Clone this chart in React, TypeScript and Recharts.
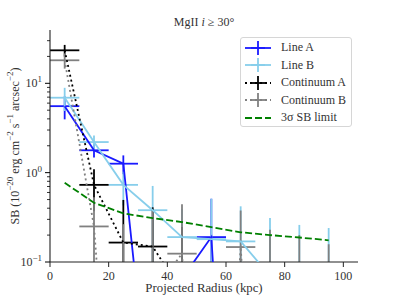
import React from 'react';
import { ComposedChart, Scatter, XAxis, YAxis, ErrorBar, Label } from 'recharts';

// ---- data ----
// values far below the axis floor stand for bins that drop off the log axis
const radius = [5, 15, 25, 35, 45, 55, 65, 75, 85, 95];
const binHalfWidth = [5, 5, 5, 5, 5, 5, 5, 5, 5, 5];

const lineA = [5.55, 1.78, 1.26, 0.001, 0.065, 0.19, 1e-6, 1e-6, 1e-6, 1e-6];
const lineAErr = [1.6, 0.3, 0.3, 0.05, 0.03, 0.32, 0.05, 0.05, 0.05, 0.05];

const lineB = [6.9, 2.2, 0.73, 0.38, 0.19, 0.18, 0.17, 0.07, 0.03, 0.02];
const lineBErr = [2.0, 0.4, 0.3, 0.33, 0.2, 0.33, 0.25, 0.24, 0.23, 0.22];

const contA = [23.4, 0.73, 0.165, 0.149, 0.046, 1e-6, 1e-6, 1e-6, 1e-6, 1e-6];
const contAErr = [3.5, 0.36, 0.33, 0.26, 0.2, 0.05, 0.05, 0.05, 0.05, 0.05];

const contB = [18.1, 0.25, 1e-5, 0.045, 0.124, 1e-6, 0.147, 1e-6, 1e-6, 1e-6];
const contBErr = [3.5, 0.28, 0.265, 0.33, 0.32, 0.05, 0.23, 0.23, 0.2, 0.158];

const sbLimit = [0.77, 0.46, 0.35, 0.31, 0.28, 0.245, 0.215, 0.2, 0.188, 0.175];

const xTicks = [0, 20, 40, 60, 80, 100];
const yTicks = [0.1, 0.2, 0.3, 0.4, 0.5, 0.6, 0.7, 0.8, 0.9, 1, 2, 3, 4, 5, 6, 7, 8, 9, 10, 20, 30];

const Y_MIN = 0.1;
const Y_MAX = 39.5;
const FONT = '"Liberation Serif", "DejaVu Serif", serif';
const TEXT = '#333';

// error bars are clipped at the bottom of the log axis (as matplotlib does visually)
const build = (vals: number[], errs: number[] | null) =>
  radius.map((r, i) => {
    const v = vals[i];
    const e = errs ? errs[i] : 0;
    const lo = Math.max(v - e, Y_MIN);
    const hi = Math.max(v + e, Y_MIN);
    return {
      x: r,
      y: v,
      ex: v >= Y_MIN ? binHalfWidth[i] : 0,
      ey: [v - lo, hi - v],
    };
  });

const dataA = build(lineA, lineAErr);
const dataB = build(lineB, lineBErr);
const dataCA = build(contA, contAErr);
const dataCB = build(contB, contBErr);
const dataLim = build(sbLimit, null);

const series = [
  { name: 'Line A', color: '#1a1aff', dash: undefined as string | undefined, err: true },
  { name: 'Line B', color: '#87ceeb', dash: undefined, err: true },
  { name: 'Continuum A', color: '#000000', dash: '2 3', err: true },
  { name: 'Continuum B', color: '#808080', dash: '2 3', err: true },
  { name: '3σ SB limit', color: '#008000', dash: '7 3', err: false },
];

const Empty = () => <g />;

const YTick = (props: any) => {
  const { x, y, payload } = props;
  const v = payload.value as number;
  const lg = Math.log10(v);
  const exp = Math.round(lg);
  const major = Math.abs(lg - exp) < 1e-6;
  return (
    <g>
      <line x1={x - (major ? 5 : 3)} x2={x} y1={y} y2={y} stroke="#000" strokeWidth={major ? 1 : 0.8} />
      {major && (
        <text x={x - 8} y={y + 4} textAnchor="end" fontFamily={FONT} fontSize={12} fill={TEXT}>
          10
          <tspan dy={-5} fontSize={9}>{exp < 0 ? '−' + Math.abs(exp) : String(exp)}</tspan>
        </text>
      )}
    </g>
  );
};

const YLabel = (props: any) => {
  const vb = props.viewBox || { x: 0, y: 30, width: 50, height: 232 };
  const cx = vb.x + 15;
  const cy = vb.y + vb.height / 2;
  return (
    <text
      x={cx}
      y={cy}
      transform={`rotate(-90 ${cx} ${cy})`}
      textAnchor="middle"
      dominantBaseline="central"
      fontFamily={FONT}
      fontSize={12}
      fill={TEXT}
    >
      SB (10<tspan dy={-5} fontSize={9}>−20</tspan>
      <tspan dy={5}> erg cm</tspan>
      <tspan dy={-5} fontSize={9}>−2</tspan>
      <tspan dy={5}> s</tspan>
      <tspan dy={-5} fontSize={9}>−1</tspan>
      <tspan dy={5}> arcsec</tspan>
      <tspan dy={-5} fontSize={9}>−2</tspan>
      <tspan dy={5}>)</tspan>
    </text>
  );
};

const XLabel = (props: any) => {
  const vb = props.viewBox || { x: 50, y: 262, width: 308, height: 37 };
  return (
    <text x={vb.x + vb.width / 2} y={vb.y + 30} textAnchor="middle" fontFamily={FONT} fontSize={12.8} fill={TEXT}>
      Projected Radius (kpc)
    </text>
  );
};

const LegendIcon = ({ s }: { s: (typeof series)[number] }) => (
  <svg width={26} height={14} style={{ display: 'block' }}>
    <line x1={0} x2={26} y1={7} y2={7} stroke={s.color} strokeWidth={1.8} strokeDasharray={s.dash} />
    {s.err && <line x1={6} x2={20} y1={7} y2={7} stroke={s.color} strokeWidth={1.8} />}
    {s.err && <line x1={13} x2={13} y1={0} y2={14} stroke={s.color} strokeWidth={1.8} />}
  </svg>
);

const LegendBox = () => (
  <div
    style={{
      position: 'absolute',
      left: 240,
      top: 37,
      width: 112,
      height: 90,
      border: '1px solid #d6d6d6',
      borderRadius: 3,
      background: 'rgba(255,255,255,0.8)',
      boxSizing: 'border-box',
      paddingTop: 1,
    }}
  >
    {series.map((s) => (
      <div key={s.name} style={{ display: 'flex', alignItems: 'center', height: 17.5, paddingLeft: 4 }}>
        <LegendIcon s={s} />
        <span style={{ marginLeft: 10, fontFamily: FONT, fontSize: 12, color: TEXT, whiteSpace: 'nowrap' }}>
          {s.name}
        </span>
      </div>
    ))}
  </div>
);

const Title = () => (
  <div
    style={{
      position: 'absolute',
      left: 50,
      top: 15,
      width: 308,
      textAlign: 'center',
      fontFamily: FONT,
      fontSize: 12,
      lineHeight: '14px',
      color: TEXT,
      whiteSpace: 'nowrap',
    }}
  >
    MgII <i>i</i> ≥ 30°
  </div>
);

const errSeries = [
  { data: dataA, s: series[0] },
  { data: dataB, s: series[1] },
  { data: dataCA, s: series[2] },
  { data: dataCB, s: series[3] },
];

export default function App() {
  return (
    <div style={{ position: 'absolute', left: 0, top: 0, width: 399, height: 299, background: '#fff' }}>
      <ComposedChart width={399} height={299} margin={{ top: 30, right: 41, bottom: 0, left: 0 }}>
        <XAxis
          dataKey="x"
          type="number"
          domain={[0, 105]}
          ticks={xTicks}
          allowDataOverflow
          height={37}
          tickSize={5}
          tickMargin={4}
          interval={0}
          axisLine={{ stroke: '#222', strokeWidth: 1.1 }}
          tickLine={{ stroke: '#222', strokeWidth: 1 }}
          tick={{ fontFamily: FONT, fontSize: 12, fill: TEXT }}
        >
          <Label content={XLabel} />
        </XAxis>
        <XAxis
          xAxisId="top"
          orientation="top"
          type="number"
          domain={[0, 105]}
          height={0}
          tick={false}
          tickLine={false}
          axisLine={{ stroke: '#222', strokeWidth: 1.1 }}
        />
        <YAxis
          dataKey="y"
          type="number"
          scale="log"
          domain={[Y_MIN, Y_MAX]}
          allowDataOverflow
          ticks={yTicks}
          interval={0}
          width={50}
          tickSize={0}
          tickMargin={0}
          tickLine={false}
          tick={YTick}
          axisLine={{ stroke: '#222', strokeWidth: 1.1 }}
        >
          <Label content={YLabel} />
        </YAxis>
        <YAxis
          yAxisId="right"
          orientation="right"
          type="number"
          domain={[0, 1]}
          width={0}
          tick={false}
          tickLine={false}
          axisLine={{ stroke: '#222', strokeWidth: 1.1 }}
        />
        {errSeries.map(({ data, s }) => (
          <Scatter
            key={s.name}
            name={s.name}
            data={data}
            fill={s.color}
            shape={Empty}
            line={{ stroke: s.color, strokeWidth: 1.8, strokeDasharray: s.dash }}
            lineType="joint"
            isAnimationActive={false}
          >
            <ErrorBar dataKey="ex" direction="x" width={0} stroke={s.color} strokeWidth={1.8} />
            <ErrorBar dataKey="ey" direction="y" width={0} stroke={s.color} strokeWidth={1.8} />
          </Scatter>
        ))}
        <Scatter
          name={series[4].name}
          data={dataLim}
          fill={series[4].color}
          shape={Empty}
          line={{ stroke: series[4].color, strokeWidth: 1.8, strokeDasharray: series[4].dash }}
          lineType="joint"
          isAnimationActive={false}
        />
      </ComposedChart>
      <Title />
      <LegendBox />
    </div>
  );
}
